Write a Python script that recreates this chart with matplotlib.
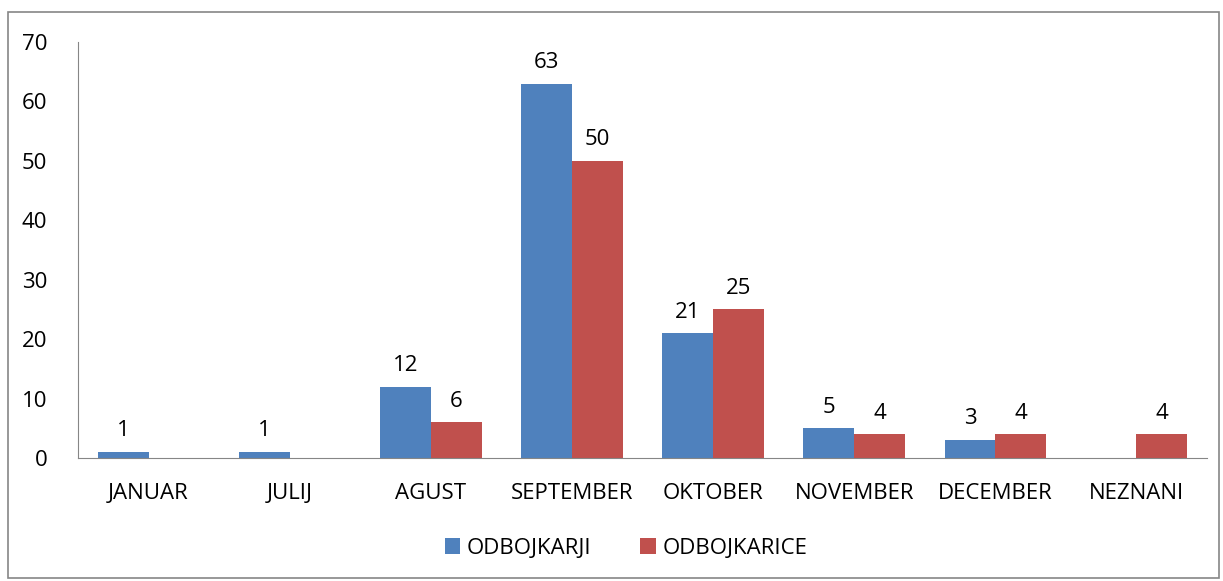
import numpy as np
import matplotlib.pyplot as plt
from matplotlib.patches import Rectangle

plt.rcParams['font.family'] = ['Open Sans', 'DejaVu Sans']

months = ['JANUAR', 'JULIJ', 'AGUST', 'SEPTEMBER', 'OKTOBER', 'NOVEMBER', 'DECEMBER', 'NEZNANI']
odbojkarji = [1, 1, 12, 63, 21, 5, 3, None]
odbojkarice = [None, None, 6, 50, 25, 4, 4, 4]

blue = '#4F81BD'
red = '#C0504D'
fs = 16

fig = plt.figure(figsize=(12.23, 5.81), dpi=100)
fig.patches.append(Rectangle((8 / 1223, 3 / 581), 1211 / 1223, 566 / 581, transform=fig.transFigure,
                             fill=False, edgecolor='#868686', linewidth=1.2))
ax = fig.add_axes([78 / 1223, (581 - 458) / 581, (1207 - 78) / 1223, (458 - 42) / 581])

x = np.arange(len(months))
w = 0.36
b1 = [v if v is not None else 0 for v in odbojkarji]
b2 = [v if v is not None else 0 for v in odbojkarice]
ax.bar(x - w / 2, b1, w, color=blue, label='ODBOJKARJI')
ax.bar(x + w / 2, b2, w, color=red, label='ODBOJKARICE')

for i, v in enumerate(odbojkarji):
    if v is not None:
        ax.text(x[i] - w / 2, v + 1.8, str(v), ha='center', va='bottom', fontsize=fs)
for i, v in enumerate(odbojkarice):
    if v is not None:
        ax.text(x[i] + w / 2, v + 1.8, str(v), ha='center', va='bottom', fontsize=fs)

ax.set_xlim(-0.5, len(months) - 0.5)
ax.set_ylim(0, 70)
ax.set_yticks(range(0, 71, 10))
ax.set_xticks(x)
ax.set_xticklabels(months)
ax.tick_params(axis='both', length=0, labelsize=fs)
ax.tick_params(axis='y', pad=22)
ax.tick_params(axis='x', pad=18)
for s in ['top', 'right']:
    ax.spines[s].set_visible(False)
ax.spines['left'].set_color('#868686')
ax.spines['bottom'].set_color('#868686')

fig.legend(loc='center', bbox_to_anchor=(0.512, 1 - 548 / 581), ncol=2, frameon=False,
           fontsize=fs, handlelength=0.7, handleheight=0.7, columnspacing=2.2, handletextpad=0.3)

fig.savefig('out.png', dpi=100)
